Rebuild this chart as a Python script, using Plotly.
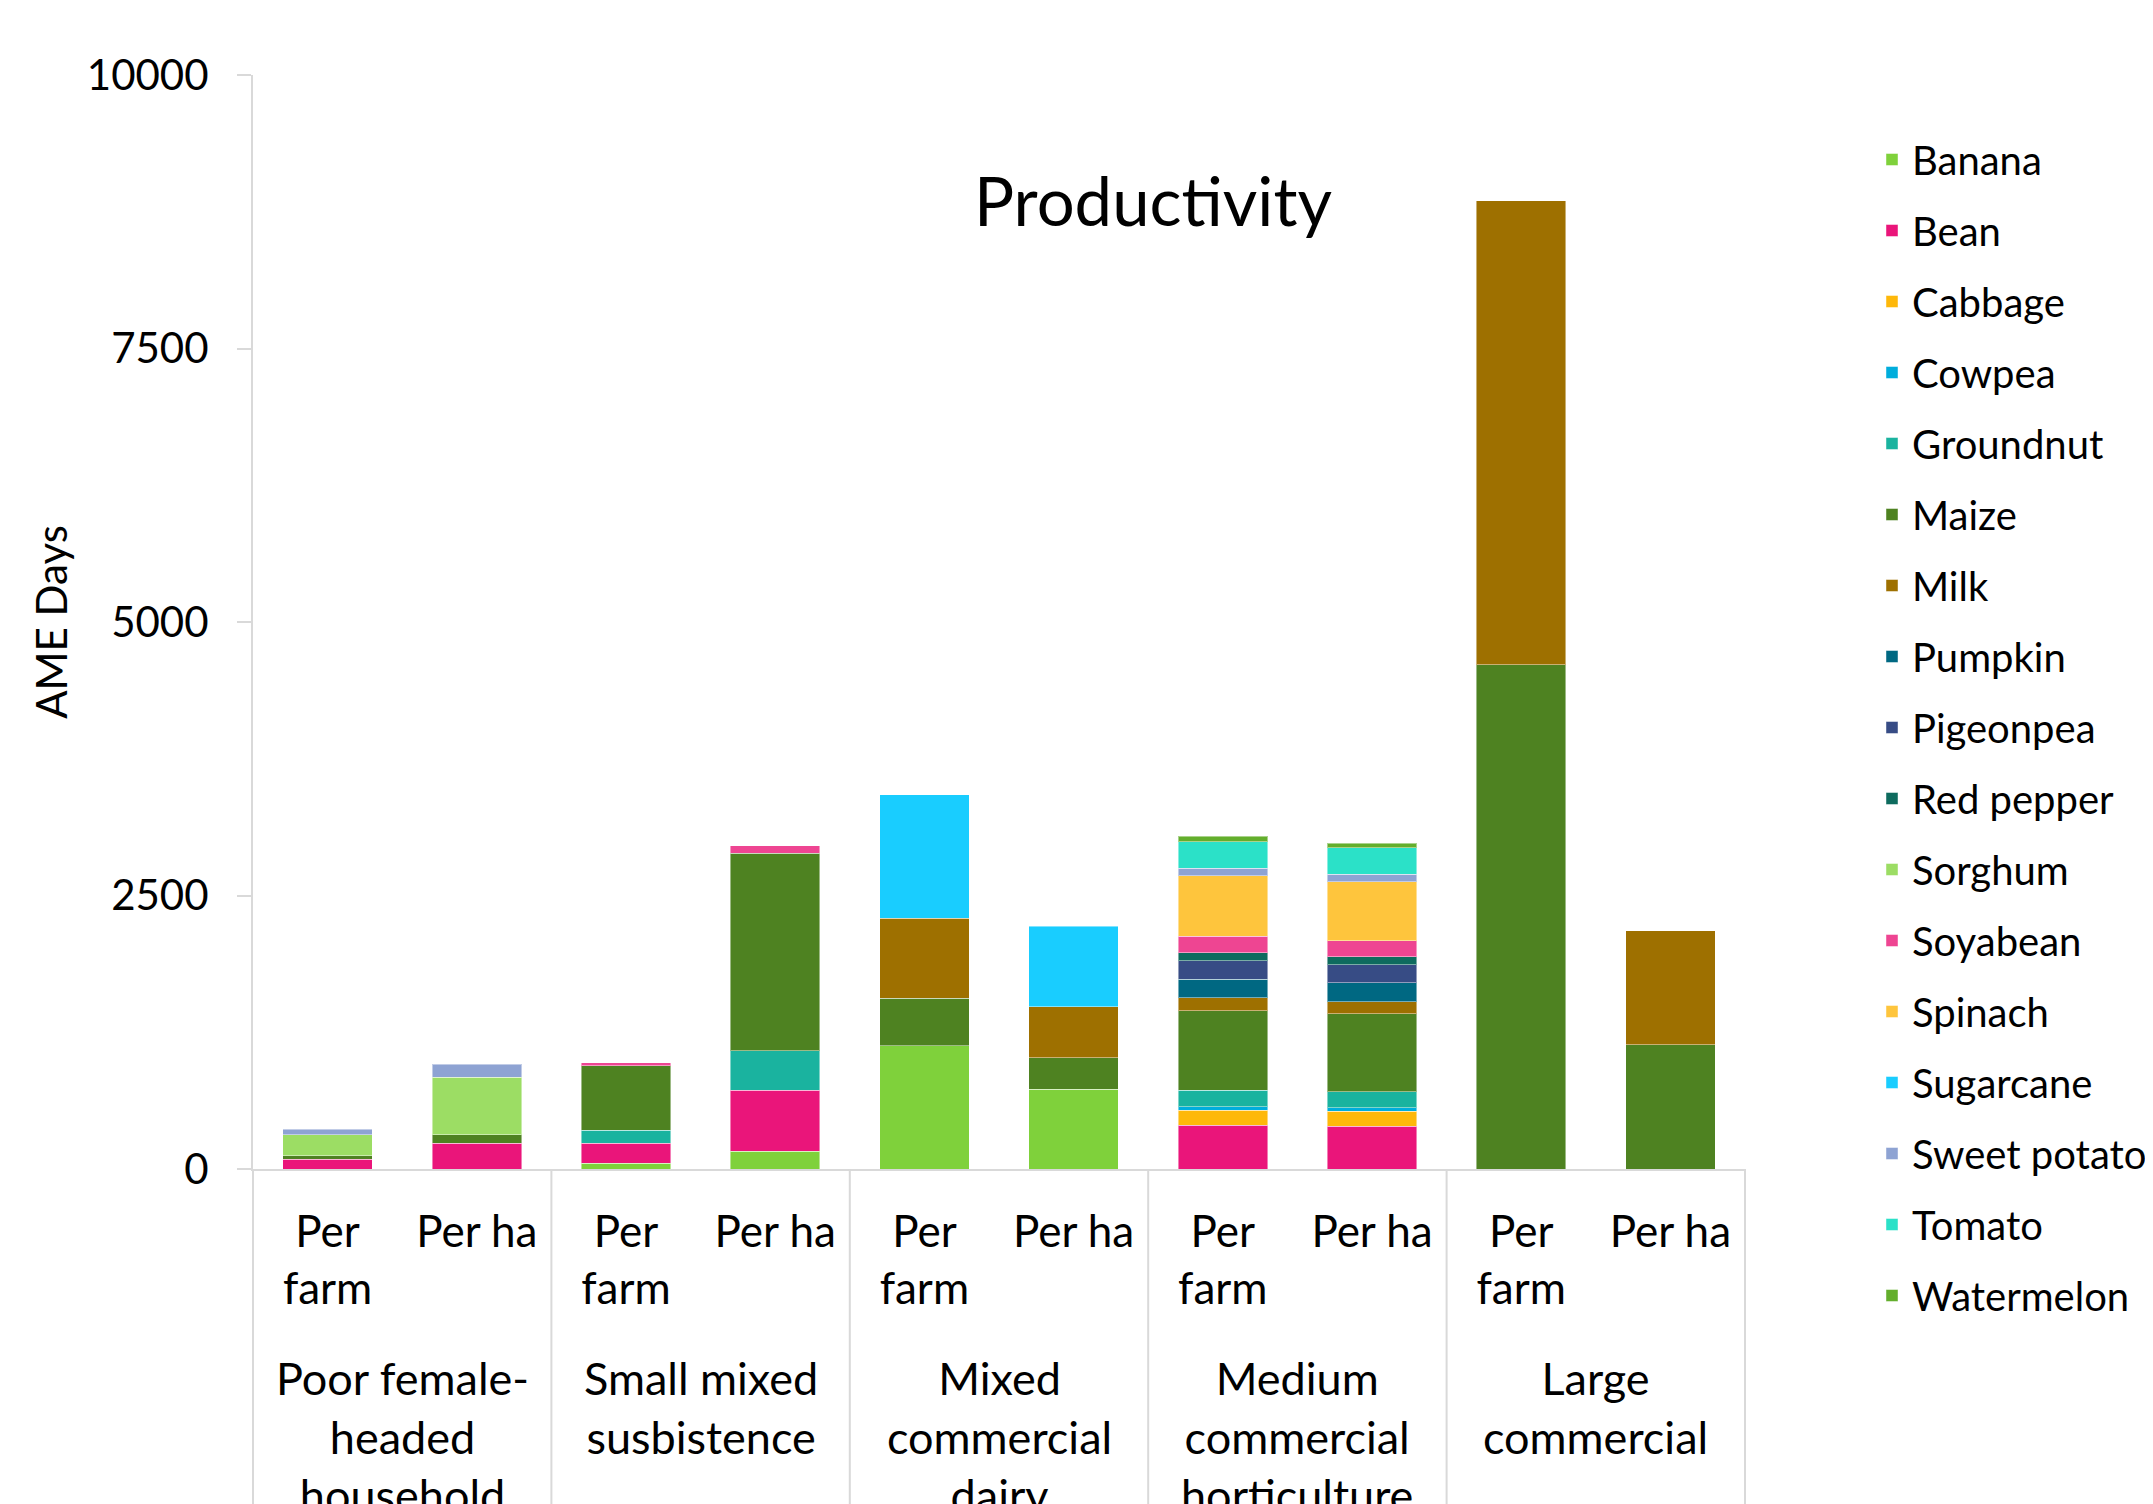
import plotly.graph_objects as go

# ---------------- data ----------------
groups = ["Poor female-<br>headed<br>household", "Small mixed<br>susbistence",
          "Mixed<br>commercial<br>dairy", "Medium<br>commercial<br>horticulture",
          "Large<br>commercial"]
sub_labels = ["Per<br>farm", "Per ha"]

banana      = [None, None, 52, 161, 1127, 728, None, None, None, None]
bean        = [89, 235, 183, 561, None, None, 402, 390, None, None]
cabbage     = [None, None, None, None, None, None, 134, 137, None, None]
cowpea      = [None, None, None, None, None, None, 34, 31, None, None]
groundnut   = [None, None, 121, 357, None, None, 149, 146, None, None]
maize       = [30, 76, 588, 1806, 436, 287, 726, 714, 4607, 1134]
milk        = [None, None, None, None, 728, 469, 119, 112, 4242, 1042]
pumpkin     = [None, None, None, None, None, None, 170, 171, None, None]
pigeonpea   = [None, None, None, None, None, None, 168, 165, None, None]
red_pepper  = [None, None, None, None, None, None, 76, 76, None, None]
sorghum     = [195, 527, None, None, None, None, None, None, None, None]
soyabean    = [None, None, 25, 68, None, None, 149, 144, None, None]
spinach     = [None, None, None, None, None, None, 552, 539, None, None]
sugarcane   = [None, None, None, None, 1131, 734, None, None, None, None]
sweet_potato= [49, 119, None, None, None, None, 70, 69, None, None]
tomato      = [None, None, None, None, None, None, 244, 242, None, None]
watermelon  = [None, None, None, None, None, None, 49, 42, None, None]

series = [
    ("Banana", banana, "#7FD13B"),
    ("Bean", bean, "#EA157A"),
    ("Cabbage", cabbage, "#FEB80A"),
    ("Cowpea", cowpea, "#00ADDC"),
    ("Groundnut", groundnut, "#1AB39F"),
    ("Maize", maize, "#4E8221"),
    ("Milk", milk, "#9E7000"),
    ("Pumpkin", pumpkin, "#006882"),
    ("Pigeonpea", pigeonpea, "#374C85"),
    ("Red pepper", red_pepper, "#0E6B5E"),
    ("Sorghum", sorghum, "#9CDD64"),
    ("Soyabean", soyabean, "#EE4592"),
    ("Spinach", spinach, "#FEC53D"),
    ("Sugarcane", sugarcane, "#19CDFF"),
    ("Sweet potato", sweet_potato, "#8EA3D3"),
    ("Tomato", tomato, "#2BE1C8"),
    ("Watermelon", watermelon, "#63AE2C"),
]

y_ticks = [0, 2500, 5000, 7500, 10000]
y_ticktext = ["0", "2500", "5000", "7500", "10000"]

# ---------------- figure ----------------
n_sub = len(sub_labels)
n_cat = len(groups) * n_sub
xpos = list(range(n_cat))
ticktext = sub_labels * len(groups)

FONT = "Lato"
fig = go.Figure()
for name, vals, col in series:
    fig.add_trace(go.Bar(
        x=xpos, y=vals, name=name, legendgroup=name,
        marker=dict(color=col, line=dict(color="rgba(255,255,255,0.45)", width=1)),
    ))

W, H = 2153, 1504
ml, mr, mt, mb = 245, 416, 67, 343
plot_h = H - mt - mb
plot_w = W - ml - mr
fig.update_layout(
    width=W, height=H,
    margin=dict(l=ml, r=mr, t=mt, b=mb, autoexpand=False),
    barmode="stack", bargap=0.4,
    plot_bgcolor="white", paper_bgcolor="white",
    font=dict(family=FONT, color="black", size=42),
    title=dict(text="Productivity", x=(1145 - ml) / plot_w, xref="paper",
               xanchor="center", y=1 - 195 / H, yref="container", yanchor="middle",
               font=dict(size=67, family=FONT, color="black")),
    legend=dict(x=(1864 - ml) / plot_w, y=(mt + plot_h - 119) / plot_h,
                xanchor="left", yanchor="top", maxheight=1350,
                font=dict(size=40, family=FONT), tracegroupgap=16,
                traceorder="grouped", itemwidth=30),
    xaxis=dict(range=[-0.5, n_cat - 0.5], tickvals=xpos, ticktext=ticktext,
               showline=True, linecolor="#D9D9D9", linewidth=2,
               ticks="", showgrid=False, zeroline=False, ticklabelstandoff=23,
               tickfont=dict(size=44, family=FONT)),
    yaxis=dict(range=[0, 10000], tickvals=y_ticks, ticktext=y_ticktext,
               showline=True, linecolor="#D9D9D9",
               linewidth=2, ticks="outside", ticklen=14, tickwidth=2, tickcolor="#D9D9D9",
               showgrid=False, zeroline=False, ticklabelstandoff=20,
               tickfont=dict(size=42, family=FONT),
               title=dict(text="AME Days", standoff=6, font=dict(size=42, family=FONT))),
)

# group dividers & labels
for b in range(len(groups) + 1):
    xp = b * n_sub / n_cat
    fig.add_shape(type="line", xref="paper", yref="paper", x0=xp, x1=xp, y0=0, y1=-0.35,
                  line=dict(color="#D9D9D9", width=2))
for g, label in enumerate(groups):
    xc = (g * n_sub + n_sub / 2) / n_cat
    fig.add_annotation(text=label, xref="paper", yref="paper", x=xc, y=-180 / plot_h,
                       xanchor="center", yanchor="top", showarrow=False,
                       font=dict(size=45, family=FONT, color="black"), align="center")

fig.write_html("out.html")
